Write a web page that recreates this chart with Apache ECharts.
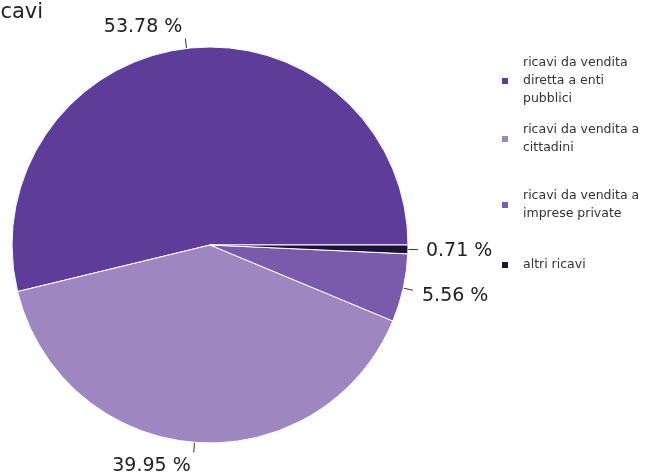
<!DOCTYPE html>
<html>
<head>
<meta charset="utf-8">
<script src="https://cdn.jsdelivr.net/npm/echarts@6/dist/echarts.min.js"></script>
<style>html,body{margin:0;padding:0;background:#fff}#c{width:653px;height:474px}</style>
</head>
<body>
<div id="c"></div>
<script>
var categories = ["ricavi da vendita diretta a enti pubblici", "ricavi da vendita a cittadini", "ricavi da vendita a imprese private", "altri ricavi"];
var legendLabels = ["ricavi da vendita\ndiretta a enti\npubblici", "ricavi da vendita a\ncittadini", "ricavi da vendita a\nimprese private", "altri ricavi"];
var values = [53.78, 39.95, 5.56, 0.71];
var colors = ["#5e3c99", "#9e87c0", "#7a5bab", "#1d1238"];
var titleText = "Ricavi";

var labelDy = [-11, 14, 6, 1];
var labelDist = [3, 3, 9, 8];

var chart = echarts.init(document.getElementById('c'));
var legendTops = [54, 121, 187, 256];
var legends = categories.map(function (c, i) {
  return {
    data: [c], orient: 'vertical', left: 500, top: legendTops[i], padding: 0,
    itemWidth: 8, itemHeight: 8, icon: 'rect', itemGap: 0,
    formatter: function () { return legendLabels[i]; },
    textStyle: { fontFamily: 'DejaVu Sans', fontSize: 12.5, lineHeight: 18, color: '#333', padding: [0, 0, 0, 9] }
  };
});
chart.setOption({
  animation: false,
  title: { text: titleText, left: -20, top: 2, padding: 0, textStyle: { fontFamily: 'DejaVu Sans', fontSize: 21, fontWeight: 'normal', color: '#222' } },
  legend: legends,
  series: [{
    type: 'pie',
    center: [210, 245],
    radius: 198,
    startAngle: 0,
    clockwise: false,
    avoidLabelOverlap: false,
    itemStyle: { borderColor: '#fff', borderWidth: 1 },
    label: {
      show: true, position: 'outside',
      fontFamily: 'DejaVu Sans', fontSize: 19, color: '#222',
      formatter: function (p) { return p.value.toFixed(2) + ' %'; }
    },
    labelLine: { show: true, length: 10, length2: 0, lineStyle: { color: '#333', width: 1 } },
    labelLayout: function (p) { return { dy: labelDy[p.dataIndex] }; },
    data: categories.map(function (c, i) {
      return {
        name: c, value: values[i], itemStyle: { color: colors[i] },
        label: { distanceToLabelLine: labelDist[i] }
      };
    })
  }]
});
</script>
</body>
</html>
